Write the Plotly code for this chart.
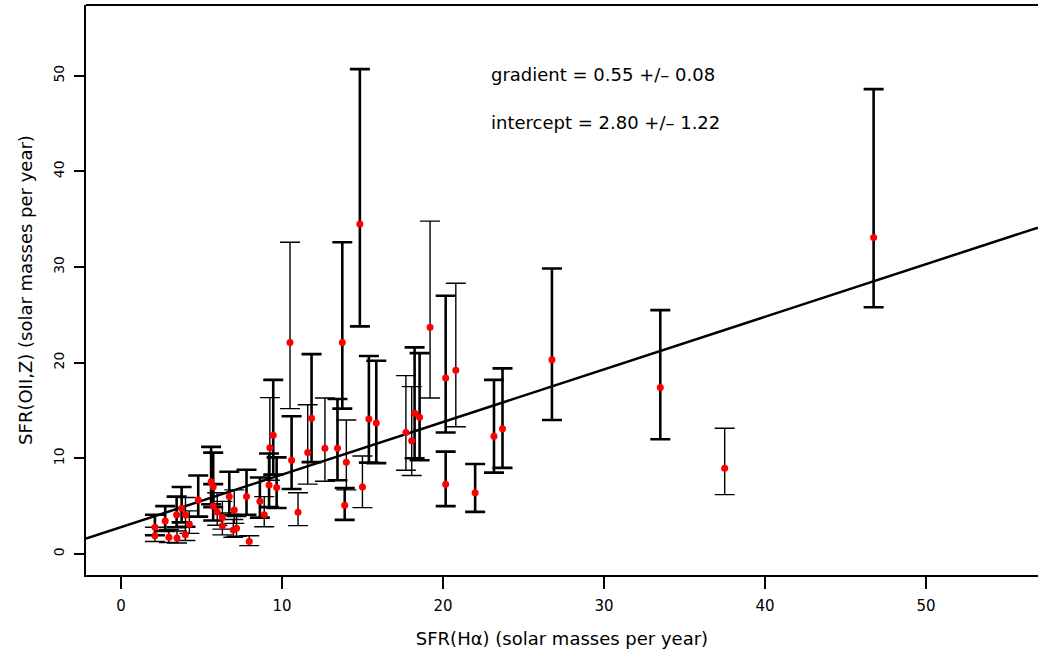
import plotly.graph_objects as go

# Sample A (heavy error bars): SFR(Halpha), SFR(OII,Z), lower bound, upper bound
a_x = [46.75, 33.5, 26.77, 23.7, 23.17, 22.0, 20.17, 20.17, 18.55, 18.24,
       15.86, 15.4, 14.84, 13.9, 13.75, 13.45, 11.84, 10.6, 9.46, 9.2,
       9.67, 8.63, 7.8, 5.6, 5.73, 5.73, 4.8, 3.77, 3.46, 2.11, 2.75, 6.73]
a_y = [33.1, 17.4, 20.3, 13.1, 12.3, 6.4, 7.3, 18.4, 14.3, 14.7,
       13.7, 14.1, 34.5, 5.1, 22.1, 11.05, 14.2, 9.8, 12.4, 7.2,
       6.95, 5.5, 6.0, 7.56, 7.04, 5.0, 5.65, 4.78, 4.1, 2.8, 3.45, 6.0]
a_lo = [25.8, 12.0, 14.0, 9.0, 8.5, 4.4, 5.0, 12.7, 9.8, 10.0,
        9.5, 9.55, 23.8, 3.56, 15.2, 7.7, 9.6, 6.8, 8.3, 4.9,
        4.8, 3.8, 4.1, 5.2, 4.9, 3.5, 3.9, 3.3, 2.8, 1.95, 2.4, 4.1]
a_hi = [48.6, 25.5, 29.85, 19.4, 18.2, 9.4, 10.7, 27.0, 21.0, 21.6,
        20.2, 20.7, 50.7, 6.9, 32.6, 16.2, 20.9, 14.4, 18.2, 10.5,
        10.1, 8.0, 8.8, 11.2, 10.6, 7.3, 8.2, 7.0, 6.0, 4.1, 5.0, 8.6]

# Sample B (light error bars)
b_x = [37.5, 20.8, 19.2, 18.06, 17.7, 15.0, 14.0, 12.67, 11.6, 11.0,
       10.5, 9.25, 8.9, 7.97, 7.04, 6.98, 7.18, 6.3, 6.3, 5.98,
       4.25, 4.01, 4.0, 3.48, 2.98, 2.11]
b_y = [8.96, 19.2, 23.7, 11.85, 12.7, 7.0, 9.6, 11.05, 10.6, 4.36,
       22.1, 11.1, 4.1, 1.3, 4.6, 2.5, 2.7, 3.8, 2.95, 4.4,
       3.1, 4.08, 2.0, 1.67, 1.75, 1.9]
b_lo = [6.2, 13.3, 16.3, 8.2, 8.75, 4.85, 6.7, 7.6, 7.3, 2.96,
        15.2, 7.7, 2.85, 0.87, 3.2, 1.75, 1.85, 2.6, 2.0, 3.0,
        2.15, 2.8, 1.4, 1.15, 1.2, 1.3]
b_hi = [13.15, 28.3, 34.8, 17.5, 18.65, 10.25, 14.0, 16.3, 15.6, 6.4,
        32.6, 16.35, 6.0, 1.9, 6.7, 3.6, 3.9, 5.5, 4.3, 6.4,
        4.5, 5.9, 2.9, 2.4, 2.55, 2.8]

gradient = 0.55
gradient_err = 0.08
intercept = 2.80
intercept_err = 1.22

x_ticks = [0, 10, 20, 30, 40, 50]
y_ticks = [0, 10, 20, 30, 40, 50]
x_range = [-2.17, 56.96]
y_range = [-2.2, 57.4]

fig = go.Figure()

# fitted line across the whole plot
fig.add_trace(go.Scatter(
    x=x_range, y=[intercept + gradient * v for v in x_range],
    mode="lines", line=dict(color="black", width=2.5),
    hoverinfo="skip", showlegend=False))

def add_sample(xs, ys, los, his, bar_w):
    fig.add_trace(go.Scatter(
        x=xs, y=ys, mode="markers",
        marker=dict(color="rgba(0,0,0,0)", size=1),
        error_y=dict(type="data", symmetric=False,
                     array=[h - y for h, y in zip(his, ys)],
                     arrayminus=[y - l for l, y in zip(los, ys)],
                     color="black", thickness=bar_w, width=10),
        showlegend=False, hoverinfo="skip"))

add_sample(a_x, a_y, a_lo, a_hi, 2.6)
add_sample(b_x, b_y, b_lo, b_hi, 1.4)

fig.add_trace(go.Scatter(
    x=a_x + b_x, y=a_y + b_y, mode="markers",
    marker=dict(color="#ff0000", size=7, line=dict(width=0)),
    showlegend=False))

font_main = "DejaVu Sans, Liberation Sans, Arial, sans-serif"

fig.add_annotation(x=22.86, y=50.1, xref="x", yref="y", xanchor="left",
                   yanchor="middle", showarrow=False,
                   text=f"gradient = {gradient:.2f} +/\u2013 {gradient_err:.2f}",
                   font=dict(family=font_main, size=18, color="black"))
fig.add_annotation(x=22.86, y=45.1, xref="x", yref="y", xanchor="left",
                   yanchor="middle", showarrow=False,
                   text=f"intercept = {intercept:.2f} +/\u2013 {intercept_err:.2f}",
                   font=dict(family=font_main, size=18, color="black"))

# top border of the plotting box
fig.add_shape(type="line", xref="paper", yref="paper", x0=0, x1=1.01, y0=1, y1=1,
              line=dict(color="black", width=2))

fig.update_layout(
    width=1038, height=657,
    margin=dict(l=86, r=0, t=5, b=82, autoexpand=False),
    paper_bgcolor="white", plot_bgcolor="white",
    font=dict(family=font_main, color="black"),
    xaxis=dict(range=x_range, tickvals=x_ticks, ticktext=[str(t) for t in x_ticks],
               showgrid=False, zeroline=False, showline=True, linecolor="black",
               linewidth=2, ticks="outside", ticklen=12, tickwidth=1.5,
               tickcolor="black", ticklabelstandoff=4, automargin=False,
               tickfont=dict(size=15, family=font_main),
               title=dict(text="SFR(H\u03b1) (solar masses per year)",
                          font=dict(size=18, family=font_main), standoff=18)),
    yaxis=dict(range=y_range, tickvals=y_ticks, ticktext=[str(t) for t in y_ticks],
               showgrid=False, zeroline=False, showline=True, linecolor="black",
               linewidth=2, ticks="outside", ticklen=10, tickwidth=1.5,
               tickcolor="black", tickangle=-90, ticklabelstandoff=4,
               automargin=False,
               tickfont=dict(size=14, family=font_main),
               title=dict(text="SFR(OII,Z) (solar masses per year)",
                          font=dict(size=18, family=font_main), standoff=14)),
)

fig.write_html("out.html", config={"displayModeBar": False},
               post_script="document.body.style.margin='0px';")
